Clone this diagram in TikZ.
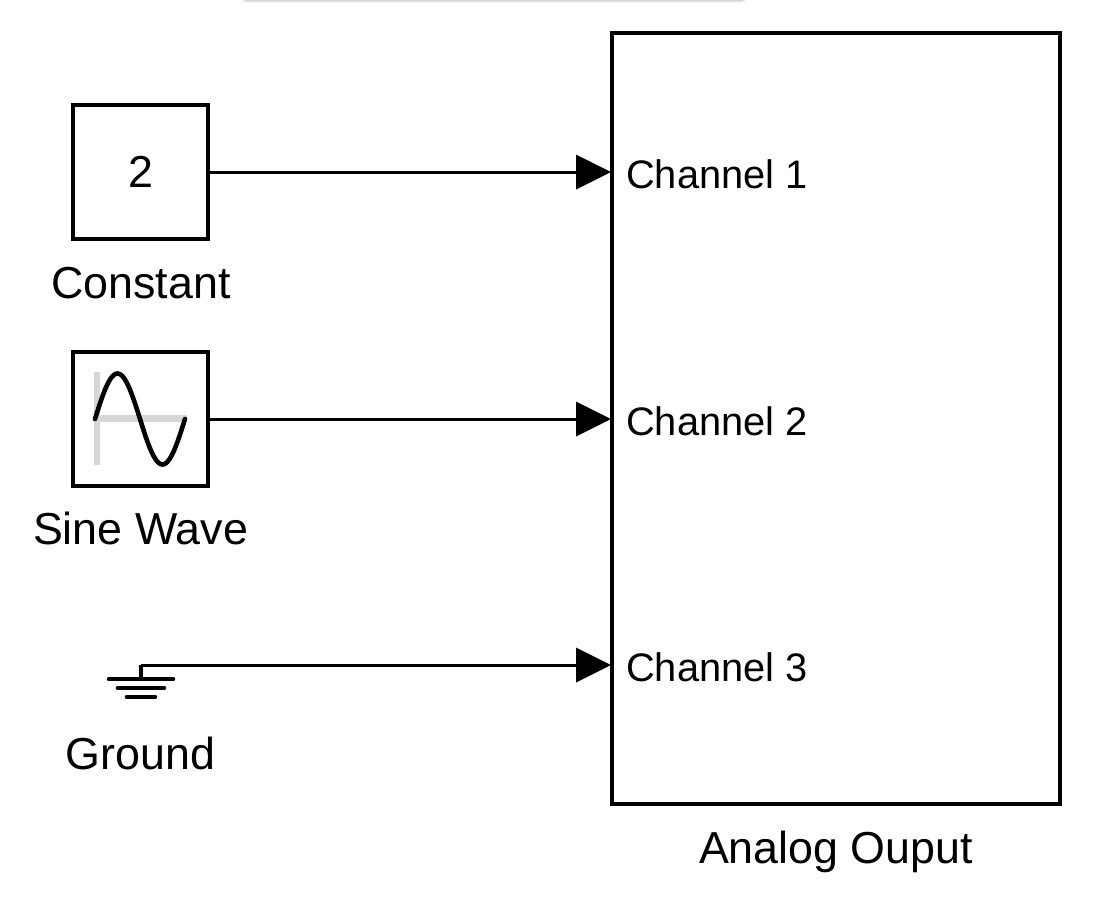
\documentclass[tikz,border=0pt]{standalone}
\usepackage{fontspec}
\setmainfont{Liberation Sans}
\usetikzlibrary{arrows.meta}
\tikzset{
  x=1pt,y=-1pt,
  blockbox/.style={draw=black,line width=4pt,fill=white,inner sep=0pt,minimum width=135pt,minimum height=134pt,font=\fontsize{44.8}{50}\selectfont},
  biglabel/.style={inner sep=0pt,anchor=base,font=\fontsize{44.8}{50}\selectfont},
  portlabel/.style={inner sep=0pt,anchor=base west,font=\fontsize{39.8}{45}\selectfont},
  wire/.style={line width=3pt,-{Triangle[length=35pt,width=35pt,line width=0pt]},shorten >=-1pt},
  groundbar/.style={line width=4.6pt,line cap=round},
  axisbar/.style={line width=7pt,draw=black!16},
}
\begin{document}
\begin{tikzpicture}
\useasboundingbox (0,0) rectangle (1099,898);
% shadow strip at the top
\foreach \yy/\cc in {6/1,5/3,4/6,3/10,2/14,1/18}{
  \fill[black!\cc,rounded corners=3pt] (244.5-0.5*\yy,-6) rectangle (743.5+0.5*\yy,0.5*\yy);
}
\fill[white] (247,-6) rectangle (741,-0.5);
\node[blockbox] (const) at (140.5,172) {2};
\node[blockbox] (sine) at (140.5,419) {};
\node[draw=black,line width=4pt,inner sep=0pt,minimum width=448pt,minimum height=771pt] (ao) at (836,418.5) {};
\coordinate (p1) at (ao.west |- const.east);
\coordinate (p2) at (ao.west |- sine.east);
\coordinate (gnd) at (141,665);
\coordinate (p3) at (ao.west |- gnd);
\node[biglabel] (lc) at (141,298) {Constant};
\node[biglabel] (ls) at (140.5,544) {Sine Wave};
\node[biglabel] (lg) at (140.5,769) {Ground};
\node[biglabel] (la) at (836,863) {Analog Ouput};
\node[portlabel] (c1) at (626,188) {Channel 1};
\node[portlabel] (c2) at (626,435) {Channel 2};
\node[portlabel] (c3) at (626,681) {Channel 3};
% sine icon
\draw[axisbar,line width=6pt] (97,372) -- (97,465);
\draw[axisbar] (94,418) -- (187,418);
\draw[line width=4.6pt,line cap=round,line join=round] plot[smooth,domain=0:360,samples=61,variable=\t] ({95+0.25*\t},{419-45.5*sin(\t)});
% ground
\draw[line width=4.6pt] (gnd) -- (141,679);
\draw[groundbar] (109,679) -- (173,679);
\draw[groundbar] (118,688) -- (164,688);
\draw[groundbar] (127,697) -- (155,697);
% wires
\draw[wire] (const.east) -- (p1);
\draw[wire] (sine.east) -- (p2);
\draw[wire] (gnd) -- (p3);
\end{tikzpicture}
\end{document}
